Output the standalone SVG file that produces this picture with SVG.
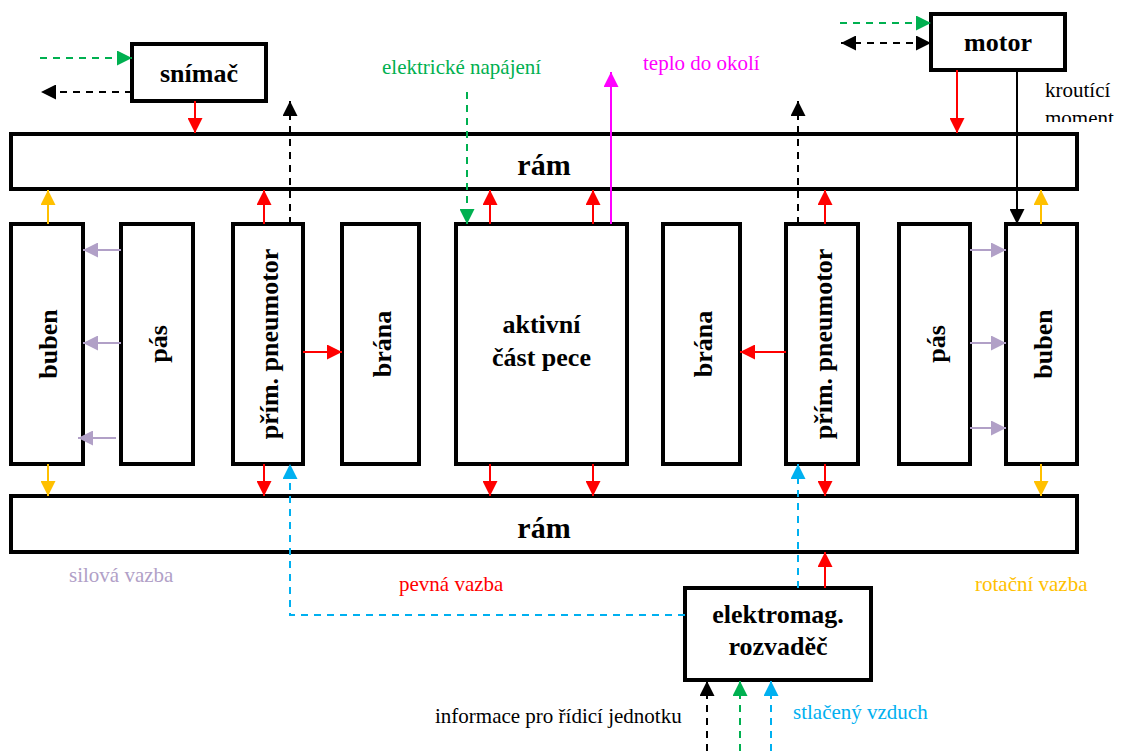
<svg xmlns="http://www.w3.org/2000/svg" width="1121" height="751" viewBox="0 0 1121 751">
<style>
.box{fill:#fff;stroke:#000;stroke-width:4}
.lbl{font-family:"Liberation Serif","Times New Roman",serif;font-weight:bold;font-size:26px;fill:#000;text-anchor:middle}
.big{font-size:30px}
.note{font-family:"Liberation Serif","Times New Roman",serif;font-size:21px}
.c{fill:none;stroke-width:2}
.dash{stroke-dasharray:7,6}
.r{stroke:#FF0000}.k{stroke:#000}.g{stroke:#00B050}.b{stroke:#00B0F0}.y{stroke:#FFC000}.p{stroke:#B1A0C7}.m{stroke:#FF00FF}
</style>
<defs>
<marker id="ar" viewBox="0 0 15 15" refX="15" refY="7.5" markerWidth="15" markerHeight="15" markerUnits="userSpaceOnUse" orient="auto-start-reverse"><path d="M0,0L15,7.5L0,15z" fill="#FF0000"/></marker>
<marker id="ak" viewBox="0 0 15 15" refX="15" refY="7.5" markerWidth="15" markerHeight="15" markerUnits="userSpaceOnUse" orient="auto-start-reverse"><path d="M0,0L15,7.5L0,15z" fill="#000"/></marker>
<marker id="ag" viewBox="0 0 15 15" refX="15" refY="7.5" markerWidth="15" markerHeight="15" markerUnits="userSpaceOnUse" orient="auto-start-reverse"><path d="M0,0L15,7.5L0,15z" fill="#00B050"/></marker>
<marker id="ab" viewBox="0 0 15 15" refX="15" refY="7.5" markerWidth="15" markerHeight="15" markerUnits="userSpaceOnUse" orient="auto-start-reverse"><path d="M0,0L15,7.5L0,15z" fill="#00B0F0"/></marker>
<marker id="ay" viewBox="0 0 15 15" refX="15" refY="7.5" markerWidth="15" markerHeight="15" markerUnits="userSpaceOnUse" orient="auto-start-reverse"><path d="M0,0L15,7.5L0,15z" fill="#FFC000"/></marker>
<marker id="ap" viewBox="0 0 15 15" refX="15" refY="7.5" markerWidth="15" markerHeight="15" markerUnits="userSpaceOnUse" orient="auto-start-reverse"><path d="M0,0L15,7.5L0,15z" fill="#B1A0C7"/></marker>
<marker id="am" viewBox="0 0 15 15" refX="15" refY="7.5" markerWidth="15" markerHeight="15" markerUnits="userSpaceOnUse" orient="auto-start-reverse"><path d="M0,0L15,7.5L0,15z" fill="#FF00FF"/></marker>
<clipPath id="clipMoment"><rect x="1030" y="75" width="91" height="47"/></clipPath>
</defs>

<g id="ram-top"><rect class="box" x="11" y="134" width="1066" height="55"/><text class="lbl big" x="544" y="175">rám</text></g>
<g id="ram-bottom"><rect class="box" x="11" y="496" width="1066" height="56"/><text class="lbl big" x="544" y="538">rám</text></g>
<g id="snimac"><rect class="box" x="132" y="44" width="134" height="57"/><text class="lbl" x="199" y="82">snímač</text></g>
<g id="motor"><rect class="box" x="931" y="14" width="134" height="56"/><text class="lbl" x="998" y="51">motor</text></g>
<g id="buben-left"><rect class="box" x="11" y="224" width="72" height="240"/><text class="lbl" transform="translate(47,344) rotate(-90)" y="10">buben</text></g>
<g id="pas-left"><rect class="box" x="121" y="224" width="72" height="240"/><text class="lbl" transform="translate(157,344) rotate(-90)" y="10">pás</text></g>
<g id="pneumotor-left"><rect class="box" x="233" y="224" width="70" height="240"/><text class="lbl" transform="translate(268,344) rotate(-90)" y="10">přím. pneumotor</text></g>
<g id="brana-left"><rect class="box" x="342" y="224" width="77" height="240"/><text class="lbl" transform="translate(380.5,344) rotate(-90)" y="10">brána</text></g>
<g id="aktivni"><rect class="box" x="456" y="224" width="171" height="240"/><text class="lbl" x="541.5" y="333">aktivní</text><text class="lbl" x="541.5" y="366">část pece</text></g>
<g id="brana-right"><rect class="box" x="663" y="224" width="77" height="240"/><text class="lbl" transform="translate(701.5,344) rotate(-90)" y="10">brána</text></g>
<g id="pneumotor-right"><rect class="box" x="786" y="224" width="72" height="240"/><text class="lbl" transform="translate(822,344) rotate(-90)" y="10">přím. pneumotor</text></g>
<g id="pas-right"><rect class="box" x="899" y="224" width="71" height="240"/><text class="lbl" transform="translate(934.5,344) rotate(-90)" y="10">pás</text></g>
<g id="buben-right"><rect class="box" x="1006" y="224" width="71" height="240"/><text class="lbl" transform="translate(1041.5,344) rotate(-90)" y="10">buben</text></g>
<g id="rozvadec"><rect class="box" x="685" y="588" width="186" height="92"/><text class="lbl" x="778" y="623">elektromag.</text><text class="lbl" x="778" y="655">rozvaděč</text></g>

<g id="connectors">
<path class="c g dash" d="M40,58H132" marker-end="url(#ag)"/>
<path class="c k dash" d="M132,92H41" marker-end="url(#ak)"/>
<path class="c r" d="M195,101V133" marker-end="url(#ar)"/>
<path class="c y" d="M48,224V190" marker-end="url(#ay)"/>
<path class="c r" d="M264,224V190" marker-end="url(#ar)"/>
<path class="c k dash" d="M290,224V101" marker-end="url(#ak)"/>
<path class="c p" d="M121,250H83" marker-end="url(#ap)"/>
<path class="c p" d="M121,343H83" marker-end="url(#ap)"/>
<path class="c p" d="M116,438H78" marker-end="url(#ap)"/>
<path class="c r" d="M303,352H342" marker-end="url(#ar)"/>
<path class="c r" d="M786,352H740" marker-end="url(#ar)"/>
<path class="c y" d="M48,464V496" marker-end="url(#ay)"/>
<path class="c r" d="M264,464V496" marker-end="url(#ar)"/>
<path class="c b dash" d="M685,615H290V464" marker-end="url(#ab)"/>
<path class="c g dash" d="M467,92V224" marker-end="url(#ag)"/>
<path class="c r" d="M490,224V190" marker-end="url(#ar)"/>
<path class="c r" d="M593,224V190" marker-end="url(#ar)"/>
<path class="c m" d="M611,224V72" marker-end="url(#am)"/>
<path class="c r" d="M490,464V496" marker-end="url(#ar)"/>
<path class="c r" d="M593,464V496" marker-end="url(#ar)"/>
<path class="c k dash" d="M798,224V101" marker-end="url(#ak)"/>
<path class="c r" d="M825,224V190" marker-end="url(#ar)"/>
<path class="c r" d="M825,464V496" marker-end="url(#ar)"/>
<path class="c b dash" d="M798,588V464" marker-end="url(#ab)"/>
<path class="c r" d="M825,588V552" marker-end="url(#ar)"/>
<path class="c p" d="M970,250H1006" marker-end="url(#ap)"/>
<path class="c p" d="M970,343H1006" marker-end="url(#ap)"/>
<path class="c p" d="M970,428H1006" marker-end="url(#ap)"/>
<path class="c y" d="M1041,224V190" marker-end="url(#ay)"/>
<path class="c y" d="M1041,464V496" marker-end="url(#ay)"/>
<path class="c g dash" d="M840,23H931" marker-end="url(#ag)"/>
<path class="c k dash" d="M841,43H931" marker-start="url(#ak)" marker-end="url(#ak)"/>
<path class="c r" d="M957,70V133" marker-end="url(#ar)"/>
<path class="c k" d="M1017,70V224" marker-end="url(#ak)"/>
<path class="c k dash" d="M707,751V681" marker-end="url(#ak)"/>
<path class="c g dash" d="M740,751V681" marker-end="url(#ag)"/>
<path class="c b dash" d="M771,751V681" marker-end="url(#ab)"/>
</g>

<g id="labels" class="note">
<text x="382" y="74" fill="#00B050">elektrické napájení</text>
<text x="643" y="70" fill="#FF00FF">teplo do okolí</text>
<text x="1045" y="97" fill="#000">kroutící</text>
<text x="1045" y="125" fill="#000" clip-path="url(#clipMoment)">moment</text>
<text x="69" y="582" fill="#B1A0C7">silová vazba</text>
<text x="399" y="591" fill="#FF0000">pevná vazba</text>
<text x="975" y="591" fill="#FFC000">rotační vazba</text>
<text x="435" y="723" fill="#000">informace pro řídicí jednotku</text>
<text x="793" y="719" fill="#00B0F0">stlačený vzduch</text>
</g>
</svg>
